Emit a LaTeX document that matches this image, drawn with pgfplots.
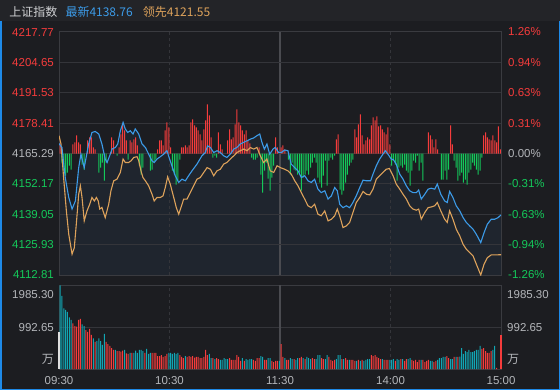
\documentclass[border=0pt]{standalone}
\usepackage{pgfplots}
\usepackage{pgfplotstable}
\pgfplotsset{compat=1.18}
\usepackage{fontspec}
\setmainfont{Liberation Sans}
\newfontfamily\cjk{Noto Sans CJK SC}
\definecolor{bg}{HTML}{1C1D21}
\definecolor{hdr}{HTML}{232428}
\definecolor{hdrtxt}{HTML}{CFD0D2}
\definecolor{gridc}{HTML}{34353A}
\definecolor{framec}{HTML}{3A3B40}
\definecolor{midc}{HTML}{4A4B50}
\definecolor{upred}{HTML}{F53C3C}
\definecolor{dngreen}{HTML}{14C95A}
\definecolor{vteal}{HTML}{11A6B4}
\definecolor{pblue}{HTML}{3C9BE8}
\definecolor{lorange}{HTML}{DDA25B}
\definecolor{lbl}{HTML}{B4B6BA}
\definecolor{edgec}{HTML}{1E8AE8}
\definecolor{fillc}{HTML}{1F252E}

\pgfplotstableread{
m p
0 4169.6
1.6 4167.9
3.4 4154.9
5.3 4146.3
7.1 4141.3
8.9 4144.8
10.7 4159.2
11.9 4165.0
13.7 4159.2
16.1 4169.4
17.9 4174.4
19.7 4174.8
21.6 4173.7
23.3 4169.4
25.1 4162.9
26.1 4161.4
27.5 4164.3
28.8 4167.2
30.6 4167.9
31.9 4169.4
33.3 4175.1
34.8 4178.7
36.0 4175.9
37.3 4174.4
38.7 4175.1
40.2 4173.7
41.4 4175.9
43.3 4173.7
45.1 4169.4
46.9 4167.9
48.7 4165.0
50.5 4162.1
51.7 4161.4
53.2 4162.9
55.0 4163.9
56.8 4165.0
58.6 4166.5
60.4 4162.1
63.1 4155.7
65.0 4152.8
66.8 4154.2
68.6 4153.5
70.4 4155.7
72.2 4157.8
74.9 4160.7
77.6 4164.3
79.4 4165.7
80.7 4168.6
82.2 4167.9
84.0 4165.7
85.8 4166.5
87.6 4165.7
89.4 4164.3
91.2 4163.6
93.0 4165.0
94.9 4167.2
96.6 4167.9
98.4 4169.4
100.3 4170.1
102.1 4170.8
103.9 4171.5
105.7 4172.0
107.5 4173.0
109.0 4173.7
110.2 4170.1
111.5 4167.2
112.9 4169.4
114.4 4165.0
116.2 4167.2
117.4 4167.9
119.3 4165.7
120.7 4165.7
122.5 4166.8
124.3 4166.5
126.1 4160.7
128.0 4159.2
129.8 4157.8
131.6 4154.9
133.4 4155.7
135.2 4153.5
137.0 4152.8
138.8 4154.2
140.6 4149.9
142.4 4148.4
144.3 4149.2
146.1 4145.6
147.9 4147.0
149.7 4150.6
151.1 4149.2
152.4 4143.4
154.2 4141.9
156.0 4142.7
157.8 4141.9
159.6 4144.1
161.4 4147.0
163.3 4150.6
165.1 4153.8
166.9 4153.5
169.2 4153.5
170.5 4156.4
172.3 4160.0
174.1 4162.9
175.9 4165.0
177.2 4166.5
178.6 4165.0
180.4 4162.9
181.6 4162.6
183.1 4160.7
185.0 4156.4
186.8 4154.2
188.6 4151.3
190.4 4149.2
192.2 4148.4
194.0 4148.4
195.3 4149.5
196.7 4145.6
198.6 4147.7
200.4 4149.9
202.1 4150.3
204.0 4149.9
205.4 4152.1
207.3 4147.7
209.4 4144.8
210.8 4144.1
212.1 4148.9
213.9 4146.3
215.7 4142.7
217.6 4140.5
219.4 4137.6
221.2 4135.5
223.0 4134.0
224.8 4132.6
226.6 4130.4
229.0 4126.8
230.8 4131.1
232.6 4134.8
234.7 4136.9
236.6 4136.9
238.4 4137.6
240 4138.76
}\bluetab

\pgfplotstableread{
m p
0 4173.0
1.1 4169.4
2.5 4154.9
4.0 4140.5
5.3 4130.4
7.1 4121.8
8.3 4124.6
9.4 4134.8
10.7 4147.7
11.6 4151.3
12.5 4146.3
13.7 4136.2
15.2 4140.5
16.7 4143.4
17.9 4146.3
19.2 4144.8
20.3 4146.3
21.3 4144.8
22.1 4141.3
23.3 4142.0
25.1 4137.6
27.0 4143.4
28.2 4149.2
29.7 4153.5
31.5 4154.2
33.3 4157.1
34.8 4162.9
36.0 4161.4
37.8 4161.4
39.1 4162.1
40.6 4163.6
42.4 4163.9
43.3 4162.1
44.5 4157.8
45.6 4154.9
46.9 4153.5
48.7 4151.3
50.5 4147.7
51.7 4144.8
53.2 4146.3
55.0 4146.3
56.5 4147.0
57.7 4150.6
59.0 4155.2
60.4 4152.1
62.3 4146.3
63.7 4141.9
65.0 4139.1
66.2 4141.9
67.7 4145.6
69.5 4145.6
71.3 4148.4
73.1 4151.3
74.9 4154.2
76.7 4154.9
78.6 4157.1
80.4 4159.2
82.2 4158.5
84.0 4155.7
85.8 4157.8
87.6 4158.5
89.4 4160.7
91.2 4161.4
93.0 4162.9
94.9 4164.3
96.6 4165.7
98.4 4166.5
100.3 4167.2
102.1 4166.5
103.9 4167.9
105.7 4167.2
107.5 4167.9
109.3 4164.3
111.1 4161.4
112.9 4162.9
114.7 4157.8
116.6 4157.1
118.4 4160.0
120.2 4159.2
122.5 4158.5
124.3 4157.8
126.1 4156.4
128.0 4153.5
129.8 4151.3
131.6 4148.4
133.4 4145.6
135.2 4142.7
137.0 4141.9
138.8 4143.4
140.6 4139.1
142.4 4138.4
144.3 4140.5
146.1 4136.2
147.9 4136.9
149.7 4138.4
151.1 4141.3
152.4 4138.4
154.2 4133.3
156.0 4134.0
157.8 4135.5
159.6 4139.8
161.4 4144.1
163.3 4146.3
165.1 4148.9
166.9 4147.7
168.7 4147.4
170.5 4149.9
172.3 4154.2
174.1 4155.7
175.9 4157.1
177.7 4158.5
179.4 4158.8
181.4 4155.7
183.1 4152.1
185.0 4149.9
186.8 4147.7
188.6 4145.6
190.4 4142.7
192.2 4141.3
194.0 4140.8
195.3 4141.3
196.7 4136.9
198.6 4139.8
200.4 4141.9
202.1 4142.2
204.0 4142.7
205.4 4144.1
207.3 4140.5
209.4 4136.9
210.8 4135.5
212.1 4140.5
213.9 4136.9
215.7 4132.6
217.6 4129.7
219.4 4126.1
221.2 4123.9
223.0 4122.5
224.8 4121.1
226.6 4117.5
229.0 4112.8
230.8 4117.5
232.6 4120.3
234.7 4121.5
240 4121.55
}\orangetab

% indicator bars around the zero line (arbitrary units)
\pgfplotstableread{
i v
1 10
8 9
9 11
10 18
11 11
12 9
16 13
17 16
18 16
19 6
20 4
29 16
30 13
33 6
34 19
35 29
36 23
37 13
39 13
40 11
41 14
42 16
43 8
54 4
55 13
56 13
57 8
58 23
59 31
60 26
61 6
67 6
68 6
69 8
70 6
71 8
72 31
73 34
74 28
75 26
76 23
77 19
78 13
79 24
80 33
81 49
82 38
83 16
87 21
88 9
89 4
92 13
93 24
94 14
95 16
96 29
97 44
98 31
99 28
100 23
101 19
102 23
103 13
104 10
109 6
118 16
119 6
121 6
122 8
123 4
151 14
152 19
161 24
162 16
163 29
164 39
165 18
166 9
167 13
168 16
169 14
170 28
171 36
172 33
173 37
174 27
175 28
176 24
177 21
178 19
179 26
180 9
201 21
202 18
203 14
204 6
205 14
206 4
213 28
214 9
231 18
232 21
233 16
234 14
235 13
236 18
237 13
238 11
239 27
240 4
}\indup

\pgfplotstableread{
i v
2 -9
3 -17
4 -22
5 -19
6 -12
7 -16
13 -11
14 -16
22 -19
23 -14
24 -9
25 -27
26 -9
32 -2
38 -6
44 -12
45 -21
46 -14
50 -17
51 -16
52 -9
53 -6
62 -17
63 -21
64 -31
65 -27
66 -6
84 -4
85 -2
86 -4
105 -4
106 -6
107 -6
108 -4
110 -21
111 -39
112 -17
113 -9
114 -25
115 -37
116 -24
117 -12
125 -6
126 -21
127 -9
128 -16
129 -17
130 -21
131 -19
132 -37
133 -24
134 -21
135 -17
136 -21
137 -14
138 -9
139 -4
140 -9
141 -24
142 -29
143 -34
144 -22
145 -7
146 -32
147 -7
148 -4
149 -6
150 -2
153 -36
154 -41
155 -37
156 -29
157 -21
158 -12
159 -9
160 -6
181 -12
182 -7
183 -11
184 -27
185 -14
186 -12
187 -14
188 -11
189 -17
190 -19
191 -32
192 -17
193 -7
194 -9
195 -2
196 -17
197 -9
198 -27
208 -26
209 -26
210 -17
211 -26
212 -16
215 -7
216 -14
217 -27
218 -22
219 -19
220 -29
221 -26
222 -31
223 -19
224 -16
225 -9
226 -12
227 -16
228 -21
229 -17
230 -4
}\inddown

\pgfplotstableread{
i v
1 1985
2 1732
3 1440
4 1400
5 1353
6 1226
7 1163
13 1060
14 1020
19 728
21 664
22 728
23 664
24 570
25 831
31 451
36 451
39 380
41 380
42 435
43 380
44 451
45 451
46 427
48 475
49 356
50 380
60 380
61 380
62 356
63 380
64 356
65 380
69 308
82 356
83 261
85 237
88 214
89 214
90 261
91 237
92 237
100 261
102 237
103 214
104 237
105 237
110 308
111 285
114 261
115 261
120 190
123 261
126 261
127 237
129 214
130 261
133 261
135 285
136 261
137 237
140 237
141 332
142 332
145 237
146 332
151 237
152 332
153 332
155 237
158 214
162 190
164 190
166 190
167 214
168 237
169 237
176 237
180 214
181 214
182 237
184 237
185 214
187 237
190 237
191 261
197 214
202 190
203 190
206 214
207 261
208 261
209 285
210 285
213 237
214 237
216 285
218 293
219 498
220 356
221 427
222 403
223 451
224 403
225 403
226 427
227 451
228 451
229 546
236 451
237 546
}\volteal

\pgfplotstableread{
i v
8 1084
9 1020
10 1005
11 1163
12 1187
15 925
16 878
17 949
18 807
20 641
26 641
27 593
28 546
29 498
30 451
32 427
33 427
34 411
35 435
37 372
38 356
40 380
47 380
51 380
52 380
53 380
54 308
55 308
56 332
57 285
58 308
59 356
66 332
67 285
68 261
70 285
71 308
72 285
73 308
74 269
75 285
76 285
77 261
78 261
79 285
80 451
81 332
84 261
86 261
87 237
93 261
94 214
95 214
96 214
97 332
98 285
99 190
101 190
106 214
107 190
108 261
109 261
112 214
113 214
116 190
117 166
118 190
119 190
121 593
122 285
124 214
125 214
128 237
131 261
132 285
134 237
138 261
139 237
143 261
144 237
147 285
148 214
149 190
150 214
154 237
156 261
157 214
159 214
160 214
161 190
163 214
165 214
170 332
171 308
172 332
173 285
174 261
175 237
177 214
178 214
179 214
183 190
186 237
188 190
189 237
192 214
193 190
194 214
195 166
196 214
198 214
199 166
200 190
201 214
204 166
205 190
211 308
212 261
215 285
217 285
230 475
231 498
232 427
233 380
234 380
235 427
238 24
}\volred

\begin{document}
\begin{tikzpicture}[x=1bp,y=1bp]
\fill[bg] (0,0) rectangle (560,390);
\fill[hdr] (0,369) rectangle (560,390);
\node[anchor=base west,inner sep=0,text=hdrtxt,font=\cjk\fontsize{12bp}{14bp}\selectfont] at (9.3,374) {上证指数};
\node[anchor=base west,inner sep=0,text=pblue,font=\cjk\fontsize{12bp}{14bp}\selectfont] at (65.3,374) {最新4138.76};
\node[anchor=base west,inner sep=0,text=lorange,font=\cjk\fontsize{12bp}{14bp}\selectfont] at (142.7,374) {领先4121.55};

\pgfplotsset{mainpanel/.style={scale only axis, width=442bp, height=243bp,
  at={(59bp,115bp)}, anchor=south west, xmin=0, xmax=240,
  major tick length=0pt, xtick=\empty,
  ticklabel style={font=\fontsize{11.5bp}{13bp}\selectfont, inner sep=0pt}}}

% price panel: grid, fill, left labels
\begin{axis}[mainpanel, ymin=4112.81, ymax=4217.77, axis on top,
  axis line style={draw=framec, line width=1bp},
  ytick={4112.81,4125.93,4139.05,4152.17,4165.29,4178.41,4191.53,4204.65,4217.77},
  yticklabels={\textcolor{dngreen}{4112.81},\textcolor{dngreen}{4125.93},\textcolor{dngreen}{4139.05},\textcolor{dngreen}{4152.17},\textcolor{lbl}{4165.29},\textcolor{upred}{4178.41},\textcolor{upred}{4191.53},\textcolor{upred}{4204.65},\textcolor{upred}{4217.77}},
  yticklabel style={anchor=east, xshift=-5bp},
  ymajorgrids, major grid style={draw=gridc, line width=1bp}]
\addplot[fill=fillc, draw=none] table[x=m,y=p]{\bluetab} \closedcycle;
\draw[gridc, line width=1bp, dash pattern=on 3bp off 3bp] (axis cs:60,4112.81) -- (axis cs:60,4217.77);
\draw[gridc, line width=1bp, dash pattern=on 3bp off 3bp] (axis cs:180,4112.81) -- (axis cs:180,4217.77);
\draw[midc, line width=2bp] (axis cs:120,4112.81) -- (axis cs:120,4217.77);
\end{axis}

% indicator bars and right labels
\begin{axis}[mainpanel, ymin=-121.35, ymax=121.35, axis line style={draw=none},
  ytick={-121.35,-91.01,-60.68,-30.34,0,30.34,60.68,91.01,121.35},
  yticklabels={\textcolor{dngreen}{-1.26\%},\textcolor{dngreen}{-0.94\%},\textcolor{dngreen}{-0.63\%},\textcolor{dngreen}{-0.31\%},\textcolor{lbl}{0.00\%},\textcolor{upred}{0.31\%},\textcolor{upred}{0.63\%},\textcolor{upred}{0.94\%},\textcolor{upred}{1.26\%}},
  yticklabel pos=right, yticklabel style={anchor=west, xshift=7bp}]
\addplot[ybar, bar width=1bp, bar shift=-0.74bp, fill=upred, draw=none] table[x=i,y=v]{\indup};
\addplot[ybar, bar width=1bp, bar shift=-0.74bp, fill=dngreen, draw=none] table[x=i,y=v]{\inddown};
\end{axis}

% lines
\begin{axis}[mainpanel, ymin=4112.81, ymax=4217.77, hide axis]
\addplot[lorange, line width=1.1bp] table[x=m,y=p]{\orangetab};
\addplot[pblue, line width=1.1bp] table[x=m,y=p]{\bluetab};
\end{axis}

% volume panel
\begin{axis}[scale only axis, width=442bp, height=83.7bp, at={(59bp,21bp)}, anchor=south west,
  xmin=0, xmax=240, ymin=0, ymax=1985.30, clip=false,
  major tick length=0pt,
  axis line style={draw=framec, line width=1bp},
  ytick={992.65}, yticklabels={},
  ymajorgrids, major grid style={draw=gridc, line width=1bp},
  xtick={0,60,120,180,240}, xticklabels={09:30,10:30,11:30,14:00,15:00},
  xticklabel style={font=\fontsize{11.5bp}{13bp}\selectfont, text=lbl, inner sep=0pt, anchor=center, yshift=-12bp}]
\draw[gridc, line width=1bp, dash pattern=on 3bp off 3bp] (axis cs:60,0) -- (axis cs:60,1985.3);
\draw[gridc, line width=1bp, dash pattern=on 3bp off 3bp] (axis cs:180,0) -- (axis cs:180,1985.3);
\draw[midc, line width=2bp] (axis cs:120,0) -- (axis cs:120,1985.3);
\addplot[ybar, bar width=1bp, bar shift=-0.74bp, fill=vteal, draw=none] table[x=i,y=v]{\volteal};
\addplot[ybar, bar width=1bp, bar shift=-0.74bp, fill=upred, draw=none] table[x=i,y=v]{\volred};
\addplot[ybar, bar width=1.5bp, bar shift=0pt, fill=white!88!black, draw=none] coordinates {(0,886)};
\addplot[ybar, bar width=1.2bp, bar shift=0pt, fill=upred, draw=none] coordinates {(240,807)};
\begin{scope}[every node/.style={inner sep=0pt, text=lbl, font=\fontsize{11.5bp}{13bp}\selectfont}]
\node[anchor=north east] at ([xshift=-5bp,yshift=-4.5bp]rel axis cs:0,1) {1985.30};
\node[anchor=east] at ([xshift=-5bp]rel axis cs:0,0.5) {992.65};
\node[anchor=south east, font=\cjk\fontsize{12bp}{14bp}\selectfont] at ([xshift=-5bp,yshift=4bp]rel axis cs:0,0) {万};
\node[anchor=north west] at ([xshift=6bp,yshift=-4.5bp]rel axis cs:1,1) {1985.30};
\node[anchor=west] at ([xshift=6bp]rel axis cs:1,0.5) {992.65};
\node[anchor=south west, font=\cjk\fontsize{12bp}{14bp}\selectfont] at ([xshift=6bp,yshift=4bp]rel axis cs:1,0) {万};
\end{scope}
\end{axis}

\draw[edgec, line width=1.5bp] (0.75,369) -- (0.75,0.75) -- (559.25,0.75) -- (559.25,369);
\pgfresetboundingbox
\useasboundingbox (0,0) rectangle (560,390);
\end{tikzpicture}
\end{document}
